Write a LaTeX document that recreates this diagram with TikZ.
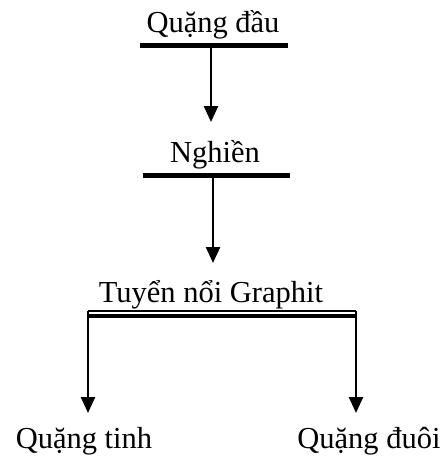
\documentclass[tikz,border=0pt]{standalone}
\usepackage{fontspec}
\setmainfont{Liberation Serif}
\usetikzlibrary{arrows.meta}
\begin{document}
\begin{tikzpicture}[x=1pt,y=-1pt,
  lbl/.style={anchor=base,inner sep=0pt,font=\fontsize{30.5}{36}\selectfont},
  bar/.style={draw=none,fill=black,inner sep=0pt,minimum height=5pt},
  arr/.style={line width=2.5pt,-{Triangle[width=14pt,length=16pt]}},
  leg/.style={line width=2.5pt}]
\useasboundingbox (0,0) rectangle (444,461);

% stage labels
\node[lbl] (feed)  at (213,32)  {Quặng đầu};
\node[lbl] (mill)  at (215,162) {Nghiền};
\node[lbl] (flot)  at (211,302) {Tuyển nổi Graphit};
\node[lbl] (conc)  at (84,448)  {Quặng tinh};
\node[lbl] (tail)  at (369,448) {Quặng đuôi};

% process bars
\node[bar,minimum width=148pt] (b1) at (214,45.5) {};
\node[bar,minimum width=147pt] (b2) at (216.5,175.5) {};
\node[bar,minimum width=268pt,minimum height=4pt] (b3) at (222,315.5) {};

% arrow tips
\coordinate (t1) at (211,122);
\coordinate (t2) at (213,263);
\coordinate (t3) at (88,413);
\coordinate (t4) at (356,413);
\coordinate (c3l) at (88,311);
\coordinate (c3r) at (356,311);

\draw[arr] (b1.south -| t1) -- (t1);
\draw[arr] (b2.south -| t2) -- (t2);

% split frame and outlets
\draw[line width=1.5pt] (c3l) -- (c3r);
\draw[arr] (c3l) -- (t3);
\draw[arr] (c3r) -- (t4);
\end{tikzpicture}
\end{document}
